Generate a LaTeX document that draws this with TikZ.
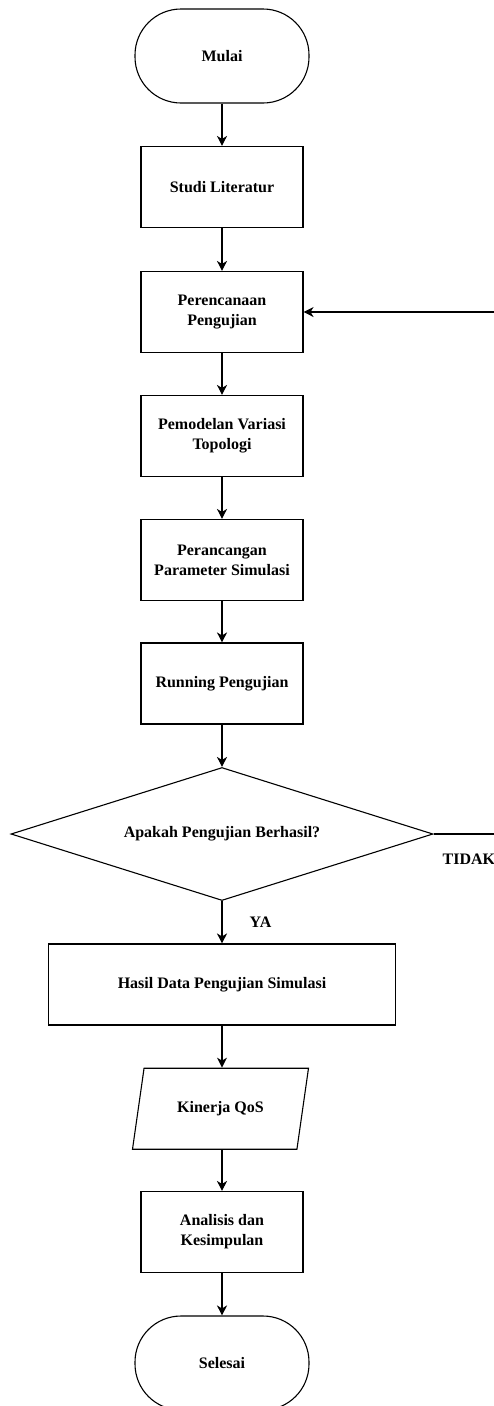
\documentclass[tikz,border=0pt]{standalone}
\usepackage{fontspec}
\setmainfont{Liberation Serif}
\usetikzlibrary{shapes.geometric, arrows.meta, positioning}

\begin{document}
\begin{tikzpicture}[
    x=1pt, y=-1pt,
    line width=1.1pt,
    font=\bfseries\fontsize{16}{20}\selectfont,
    terminal/.style={draw, rectangle, rounded corners=46pt, minimum width=174pt, minimum height=94pt, align=center},
    process/.style={draw, rectangle, minimum width=162pt, minimum height=81pt, align=center, inner sep=2pt},
    decision/.style={draw, diamond, aspect=3.17, minimum width=422pt, minimum height=133pt, inner sep=0pt, align=center},
    dataio/.style={draw, trapezium, trapezium left angle=71.6, trapezium right angle=108.4, trapezium stretches=true, minimum width=176pt, minimum height=81pt, align=center},
    flow/.style={-{Stealth[length=10pt, width=10pt, inset=3pt]}},
    answer/.style={inner sep=0pt, font=\bfseries\fontsize{16}{20}\selectfont}
]
    \useasboundingbox (0,0) rectangle (494,1406);

    % Start and steps
    \node[terminal] (mulai) at (222,56) {Mulai};
    \node[process] (studi) at (222,187) {Studi Literatur};
    \node[process] (rencana) at (222,312) {Perencanaan\\Pengujian};
    \node[process] (model) at (222,436) {Pemodelan Variasi\\Topologi};
    \node[process] (param) at (222,560) {Perancangan\\Parameter Simulasi};
    \node[process] (running) at (222,683.5) {Running Pengujian};

    % Decision
    \node[decision] (cek) at (222,834) {Apakah Pengujian Berhasil?};
    \node[answer, anchor=west] (tidak) at ([xshift=8.5pt, yshift=-25pt]cek.east) {TIDAK};
    \node[answer] (ya) at ([xshift=38.5pt, yshift=-21pt]cek.south) {YA};

    % Results
    \node[process, minimum width=347pt] (hasil) at (222,984.5) {Hasil Data Pengujian Simulasi};
    \node[dataio] (qos) at (220.5,1108.7) {Kinerja QoS};
    \node[process] (analisis) at (222,1232) {Analisis dan\\Kesimpulan};
    \node[terminal] (selesai) at (222,1363) {Selesai};

    % Loop back (runs past the right edge)
    \coordinate (balikA) at (500,834);
    \coordinate (balikB) at (500,312);

    % Connections
    \draw[flow] (mulai) -- (studi);
    \draw[flow] (studi) -- (rencana);
    \draw[flow] (rencana) -- (model);
    \draw[flow] (model) -- (param);
    \draw[flow] (param) -- (running);
    \draw[flow] (running) -- (cek);
    \draw[flow] (cek) -- (hasil);
    \draw[flow] (hasil.south) -- (hasil.south |- qos.north);
    \draw[flow] (qos.south -| analisis.north) -- (analisis.north);
    \draw[flow] (analisis) -- (selesai);
    \draw[flow] (cek.east) -- (balikA) -- (balikB) -- (rencana.east);
\end{tikzpicture}
\end{document}
